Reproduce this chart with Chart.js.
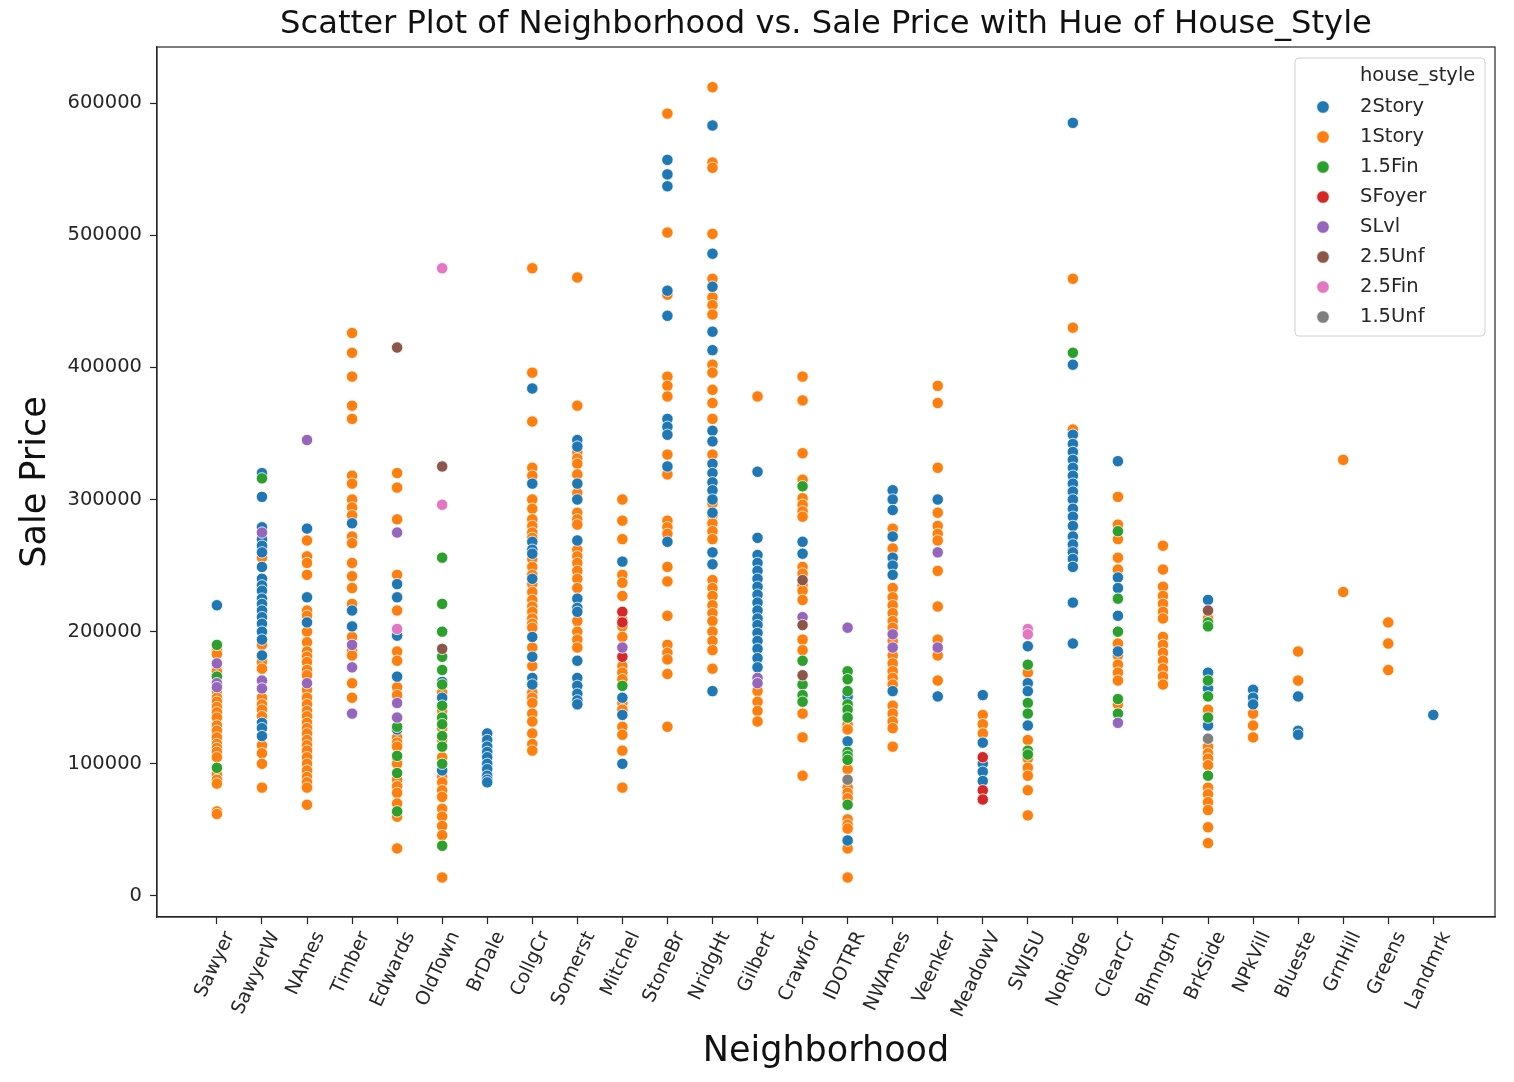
<!DOCTYPE html>
<html>
<head>
<meta charset="utf-8">
<title>Neighborhood vs. Sale Price</title>
<script src="https://cdn.jsdelivr.net/npm/chart.js@4.4.1/dist/chart.umd.min.js"></script>
<style>
  html, body { margin: 0; padding: 0; background: #fff; }
  #chart { display: block; }
</style>
</head>
<body>
<canvas id="chart" width="1514" height="1082"></canvas>
<script>
const chartTitle = 'Scatter Plot of Neighborhood vs. Sale Price with Hue of House_Style';
const xTitle = 'Neighborhood';
const yTitle = 'Sale Price';
const legendTitle = 'house_style';

const neighborhoods = ['Sawyer', 'SawyerW', 'NAmes', 'Timber', 'Edwards', 'OldTown', 'BrDale', 'CollgCr',
  'Somerst', 'Mitchel', 'StoneBr', 'NridgHt', 'Gilbert', 'Crawfor', 'IDOTRR', 'NWAmes', 'Veenker',
  'MeadowV', 'SWISU', 'NoRidge', 'ClearCr', 'Blmngtn', 'BrkSide', 'NPkVill', 'Blueste', 'GrnHill',
  'Greens', 'Landmrk'];
const yTicks = [0, 100000, 200000, 300000, 400000, 500000, 600000];

const styles = ['2Story', '1Story', '1.5Fin', 'SFoyer', 'SLvl', '2.5Unf', '2.5Fin', '1.5Unf'];
const colors = ['#1f77b4', '#ff7f0e', '#2ca02c', '#d62728', '#9467bd', '#8c564b', '#e377c2', '#7f7f7f'];

// sale prices per neighborhood, one list per house style
const price2Story = {
  Sawyer: [220000],
  SawyerW: [320000, 302000, 279000, 270000, 265000, 260000, 249000, 240000, 235000, 231000, 225000, 221000, 216000, 211000, 206000, 200000, 194000, 182000, 131000, 127000, 121000],
  NAmes: [278000, 226000, 207000],
  Timber: [282000, 216000, 204000],
  Edwards: [236000, 226000, 197000, 166000, 126000],
  OldTown: [162000, 150000, 95000],
  BrDale: [123000, 118000, 113000, 109000, 105000, 100000, 96000, 91000, 88000, 86000],
  CollgCr: [384000, 312000, 268000, 262000, 259000, 240000, 196000, 181000, 165000, 160000],
  Somerst: [345000, 340000, 312000, 300000, 269000, 225000, 218000, 215000, 178000, 165000, 159000, 153000, 148000, 145000],
  Mitchel: [253000, 150000, 137000, 100000],
  StoneBr: [557000, 546000, 537000, 458000, 439000, 361000, 355000, 349000, 325000, 268000],
  NridgHt: [583000, 486000, 461000, 427000, 413000, 352000, 344000, 327000, 320000, 313000, 307000, 300000, 290000, 260000, 251000, 155000],
  Gilbert: [321000, 271000, 258000, 252000, 246000, 240000, 234000, 228000, 222000, 216000, 210000, 205000, 199000, 193000, 187000, 180000, 173000],
  Crawfor: [268000, 259000],
  IDOTRR: [151000, 117000, 42000],
  NWAmes: [307000, 300000, 292000, 272000, 256000, 250000, 243000, 155000],
  Veenker: [300000, 151000],
  MeadowV: [152000, 116000, 100000, 94000, 87000],
  SWISU: [189000, 161000, 155000, 129000],
  NoRidge: [585000, 402000, 349000, 342000, 336000, 330000, 324000, 318000, 312000, 306000, 300000, 293000, 287000, 280000, 272000, 266000, 260000, 255000, 249000, 222000, 191000],
  ClearCr: [329000, 241000, 233000, 212000, 185000],
  BrkSide: [224000, 169000, 157000, 129000],
  NPkVill: [156000, 150000, 145000],
  Blueste: [151000, 125000, 122000],
  Landmrk: [137000]
};

const price1Story = {
  Sawyer: [186000, 183000, 170000, 160000, 155000, 150000, 147000, 143000, 139000, 135000, 129000, 125000, 120000, 115000, 112000, 109000, 105000, 92000, 88000, 85000, 64000, 62000],
  SawyerW: [256000, 190000, 177000, 172000, 150000, 145000, 141000, 136000, 114000, 108000, 100000, 82000],
  NAmes: [269000, 257000, 252000, 243000, 216000, 212000, 200000, 192000, 185000, 181000, 177000, 171000, 167000, 156000, 150000, 145000, 140000, 136000, 131000, 127000, 123000, 118000, 114000, 110000, 105000, 100000, 95000, 90000, 86000, 82000, 69000],
  Timber: [426000, 411000, 393000, 371000, 361000, 318000, 312000, 300000, 294000, 288000, 272000, 267000, 252000, 242000, 233000, 221000, 196000, 186000, 182000, 161000, 150000],
  Edwards: [320000, 309000, 285000, 243000, 216000, 185000, 178000, 158000, 152000, 120000, 116000, 113000, 103000, 100000, 88000, 83000, 78000, 70000, 60000, 36000],
  OldTown: [154000, 140000, 127000, 118000, 105000, 90000, 86000, 80000, 75000, 66000, 60000, 53000, 46000, 14000],
  CollgCr: [475000, 396000, 359000, 324000, 318000, 300000, 293000, 285000, 280000, 275000, 271000, 255000, 249000, 243000, 236000, 230000, 224000, 219000, 215000, 210000, 206000, 203000, 188000, 174000, 154000, 150000, 146000, 138000, 132000, 123000, 115000, 110000],
  Somerst: [468000, 371000, 336000, 331000, 327000, 319000, 305000, 290000, 285000, 281000, 262000, 257000, 252000, 246000, 240000, 233000, 208000, 200000, 194000, 188000],
  Mitchel: [300000, 284000, 270000, 243000, 237000, 227000, 209000, 204000, 196000, 174000, 169000, 164000, 146000, 141000, 128000, 122000, 110000, 82000],
  StoneBr: [592000, 502000, 455000, 393000, 386000, 378000, 334000, 319000, 284000, 279000, 274000, 249000, 238000, 212000, 190000, 184000, 179000, 168000, 128000],
  NridgHt: [612000, 555000, 551000, 501000, 467000, 453000, 447000, 440000, 402000, 396000, 383000, 373000, 361000, 334000, 297000, 288000, 282000, 276000, 270000, 239000, 233000, 227000, 220000, 214000, 208000, 200000, 193000, 186000, 172000],
  Gilbert: [378000, 207000, 200000, 155000, 147000, 140000, 132000],
  Crawfor: [393000, 375000, 335000, 315000, 301000, 296000, 291000, 287000, 249000, 244000, 235000, 231000, 224000, 194000, 186000, 138000, 120000, 91000],
  IDOTRR: [130000, 126000, 96000, 82000, 78000, 74000, 58000, 54000, 51000, 36000, 14000],
  NWAmes: [278000, 263000, 233000, 226000, 220000, 214000, 208000, 203000, 193000, 182000, 176000, 170000, 165000, 160000, 144000, 138000, 132000, 127000, 113000],
  Veenker: [386000, 373000, 324000, 290000, 280000, 274000, 269000, 246000, 219000, 194000, 182000, 163000],
  MeadowV: [137000, 130000, 123000],
  SWISU: [169000, 118000, 104000, 97000, 91000, 80000, 61000],
  NoRidge: [467000, 430000, 353000, 262000],
  ClearCr: [302000, 281000, 270000, 256000, 247000, 191000, 182000, 175000, 169000, 163000, 145000],
  Blmngtn: [265000, 247000, 234000, 227000, 221000, 215000, 210000, 196000, 190000, 184000, 178000, 172000, 166000, 160000],
  BrkSide: [210000, 141000, 113000, 108000, 104000, 99000, 82000, 77000, 71000, 65000, 52000, 40000],
  NPkVill: [138000, 129000, 120000],
  Blueste: [185000, 163000],
  GrnHill: [330000, 230000],
  Greens: [207000, 191000, 171000]
};

const price15Fin = {
  Sawyer: [190000, 166000, 97000],
  SawyerW: [316000],
  Edwards: [128000, 106000, 93000, 64000],
  OldTown: [256000, 221000, 200000, 181000, 171000, 160000, 144000, 135000, 130000, 121000, 113000, 100000, 38000],
  Mitchel: [159000],
  Crawfor: [310000, 178000, 160000, 152000, 147000],
  IDOTRR: [170000, 164000, 155000, 145000, 141000, 135000, 109000, 106000, 103000, 69000],
  SWISU: [175000, 146000, 138000, 110000, 107000],
  NoRidge: [411000],
  ClearCr: [276000, 225000, 200000, 149000, 138000],
  BrkSide: [207000, 204000, 163000, 151000, 135000, 91000]
};

const priceSFoyer = {
  Mitchel: [215000, 207000, 181000],
  MeadowV: [105000, 80000, 73000]
};

const priceSLvl = {
  Sawyer: [176000, 161000, 158000],
  SawyerW: [275000, 163000, 157000],
  NAmes: [345000, 161000],
  Timber: [190000, 173000, 138000],
  Edwards: [275000, 146000, 135000],
  Mitchel: [188000],
  Gilbert: [165000, 161000],
  Crawfor: [211000],
  IDOTRR: [203000],
  NWAmes: [198000, 188000],
  Veenker: [260000, 188000],
  ClearCr: [131000]
};

const price25Unf = {
  Edwards: [415000],
  OldTown: [325000, 187000],
  Crawfor: [239000, 205000, 167000],
  BrkSide: [216000]
};

const price25Fin = {
  Edwards: [202000],
  OldTown: [475000, 296000],
  SWISU: [202000, 198000]
};

const price15Unf = {
  IDOTRR: [88000],
  BrkSide: [119000]
};

const pricesByStyle = [price2Story, price1Story, price15Fin, priceSFoyer, priceSLvl, price25Unf, price25Fin, price15Unf];
// rare styles drawn on top, 1Story underneath
const drawOrder = [6, 7, 5, 4, 3, 2, 1, 0];

function toPoints(table) {
  const pts = [];
  Object.keys(table).forEach(name => {
    const idx = neighborhoods.indexOf(name);
    table[name].forEach(v => pts.push({ x: idx, y: v }));
  });
  return pts;
}

const datasets = styles.map((s, i) => ({
  label: s,
  data: toPoints(pricesByStyle[i]),
  backgroundColor: colors[i],
  borderColor: '#ffffff',
  borderWidth: 0.8,
  pointRadius: 5.7,
  order: drawOrder[i]
}));

const font = 'DejaVu Sans';

const extras = {
  id: 'extras',
  afterDraw(chart) {
    const { ctx, chartArea: a } = chart;
    ctx.save();
    ctx.strokeStyle = '#262626';
    ctx.lineWidth = 1.2;
    ctx.strokeRect(a.left, a.top, a.right - a.left, a.bottom - a.top);

    ctx.fillStyle = '#111';
    ctx.font = '32.2px "' + font + '"';
    ctx.textAlign = 'center';
    ctx.textBaseline = 'middle';
    ctx.fillText(chartTitle, (a.left + a.right) / 2, a.top - 22);

    // legend box in upper right of the axes
    const bx = a.right - 200, by = a.top + 11, bw = 190, bh = 278;
    ctx.beginPath();
    ctx.roundRect(bx, by, bw, bh, 4);
    ctx.fillStyle = 'rgba(255,255,255,0.8)';
    ctx.fill();
    ctx.strokeStyle = '#d0d0d0';
    ctx.lineWidth = 1;
    ctx.stroke();

    ctx.font = '19.5px "' + font + '"';
    ctx.textAlign = 'left';
    ctx.fillStyle = '#262626';
    ctx.fillText(legendTitle, bx + 65, by + 18);
    styles.forEach((s, i) => {
      const y = by + 49 + i * 30;
      ctx.beginPath();
      ctx.arc(bx + 28, y, 6.3, 0, Math.PI * 2);
      ctx.fillStyle = colors[i];
      ctx.fill();
      ctx.strokeStyle = '#fff';
      ctx.lineWidth = 0.8;
      ctx.stroke();
      ctx.fillStyle = '#262626';
      ctx.fillText(s, bx + 65, y);
    });
    ctx.restore();
  }
};

new Chart(document.getElementById('chart'), {
  type: 'scatter',
  data: { datasets },
  options: {
    responsive: false,
    animation: false,
    events: [],
    layout: { padding: { top: 47, right: 19, bottom: 0, left: 0 } },
    plugins: {
      legend: { display: false },
      title: { display: false },
      tooltip: { enabled: false }
    },
    scales: {
      x: {
        type: 'linear',
        min: -1.33,
        max: 28.37,
        afterBuildTicks: s => { s.ticks = neighborhoods.map((n, i) => ({ value: i })); },
        afterFit: s => { s.height = 165; },
        grid: { drawOnChartArea: false, drawTicks: true, tickLength: 7, color: '#262626', tickWidth: 1.2 },
        border: { display: true, color: '#262626', width: 1.2 },
        ticks: {
          autoSkip: false,
          maxRotation: 65,
          minRotation: 65,
          padding: 4,
          labelOffset: 13,
          color: '#262626',
          font: { family: font, size: 19 },
          callback: v => neighborhoods[v]
        },
        title: {
          display: true,
          text: xTitle,
          color: '#111',
          font: { family: font, size: 35 },
          padding: { top: 0, bottom: 9 }
        }
      },
      y: {
        min: -15900,
        max: 642400,
        afterBuildTicks: s => { s.ticks = yTicks.map(v => ({ value: v })); },
        afterFit: s => { s.width = 157; },
        grid: { drawOnChartArea: false, drawTicks: true, tickLength: 7, color: '#262626', tickWidth: 1.2 },
        border: { display: true, color: '#262626', width: 1.2 },
        ticks: {
          padding: 8,
          color: '#262626',
          font: { family: font, size: 19.5 },
          callback: v => String(v)
        },
        title: {
          display: true,
          text: yTitle,
          color: '#111',
          font: { family: font, size: 35 },
          padding: { top: 15, bottom: 0 }
        }
      }
    }
  },
  plugins: [extras]
});
</script>
</body>
</html>
